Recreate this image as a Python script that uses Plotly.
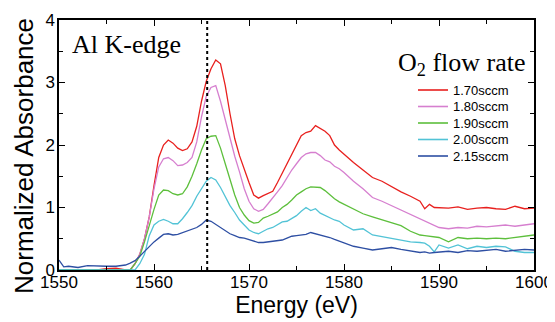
import plotly.graph_objects as go

energy = [1550, 1550.5, 1551, 1552, 1553, 1554, 1555, 1556, 1557, 1557.5,
          1558, 1558.5, 1559, 1559.5, 1560, 1560.5, 1561, 1561.5, 1562, 1562.5,
          1563, 1563.5, 1564, 1564.5, 1565, 1565.5, 1566, 1566.5, 1567, 1567.5,
          1568, 1568.5, 1569, 1569.5, 1570, 1570.5, 1571, 1571.5, 1572, 1572.5,
          1573, 1573.5, 1574, 1574.5, 1575, 1575.5, 1576, 1576.5, 1577, 1577.5,
          1578, 1578.5, 1579, 1579.5, 1580, 1581, 1582, 1583, 1584, 1585,
          1586, 1587, 1588, 1588.5, 1589, 1589.5, 1590, 1591, 1592, 1593,
          1594, 1595, 1596, 1597, 1598, 1599, 1600]

abs_170 = [0.0, 0.0, 0.01, 0.0, 0.01, 0.0, 0.02, 0.03, 0.0, 0.0,
           0.1, 0.25, 0.5, 0.85, 1.35, 1.8, 2.0, 2.08, 2.03, 1.95,
           1.91, 1.94, 2.05, 2.3, 2.7, 3.02, 3.22, 3.36, 3.3, 2.95,
           2.5, 2.1, 1.83, 1.6, 1.4, 1.2, 1.15, 1.19, 1.23, 1.26,
           1.4, 1.55, 1.7, 1.85, 2.0, 2.15, 2.2, 2.22, 2.31, 2.27,
           2.22, 2.15, 2.0, 1.92, 1.85, 1.72, 1.6, 1.48, 1.42, 1.33,
           1.25, 1.18, 1.1, 0.98, 1.05, 1.0, 1.0, 0.99, 1.01, 0.97,
           0.99, 1.0, 0.98, 0.97, 1.02, 0.98, 0.99]

abs_180 = [0.0, 0.0, 0.0, 0.0, 0.0, 0.0, 0.0, 0.0, 0.0, 0.0,
           0.1, 0.25, 0.5, 0.85, 1.3, 1.65, 1.78, 1.8, 1.75, 1.67,
           1.68, 1.72, 1.8, 2.05, 2.45, 2.78, 2.92, 2.95, 2.7, 2.4,
           2.1, 1.82, 1.57, 1.3, 1.1, 0.98, 0.94, 0.97, 1.06, 1.15,
           1.25, 1.35, 1.48, 1.6, 1.7, 1.8, 1.86, 1.88, 1.88, 1.83,
           1.76, 1.73, 1.66, 1.62, 1.56, 1.42, 1.3, 1.16, 1.1, 1.03,
           0.97, 0.9, 0.82, 0.79, 0.76, 0.72, 0.68, 0.66, 0.68, 0.67,
           0.7, 0.69, 0.71, 0.72, 0.7, 0.72, 0.74]

abs_190 = [0.0, 0.0, 0.0, 0.0, 0.0, 0.0, 0.0, 0.0, 0.0, 0.0,
           0.1, 0.22, 0.45, 0.72, 0.97, 1.2, 1.28, 1.27, 1.22, 1.2,
           1.22, 1.33, 1.5, 1.7, 1.92, 2.1, 2.14, 2.15, 1.95, 1.7,
           1.45, 1.2, 1.0, 0.88, 0.79, 0.75, 0.76, 0.83, 0.86, 0.9,
           0.93, 1.0, 1.05, 1.12, 1.2, 1.25, 1.3, 1.33, 1.33, 1.32,
           1.27, 1.2, 1.14, 1.09, 1.05, 0.97, 0.9, 0.85, 0.8, 0.76,
           0.71, 0.62, 0.56, 0.55, 0.54, 0.53, 0.52, 0.45, 0.52, 0.5,
           0.51, 0.5, 0.51, 0.5, 0.52, 0.54, 0.56]

abs_200 = [0.0, 0.0, 0.0, 0.0, 0.0, 0.0, 0.0, 0.0, 0.0, 0.0,
           0.0, 0.1, 0.25, 0.55, 0.72, 0.78, 0.81, 0.78, 0.74, 0.74,
           0.82, 0.92, 1.03, 1.18, 1.3, 1.42, 1.48, 1.44, 1.32, 1.18,
           1.03, 0.92, 0.8, 0.72, 0.64, 0.6, 0.58, 0.62, 0.66, 0.68,
           0.72, 0.77, 0.78, 0.82, 0.87, 0.94, 1.0, 0.95, 0.98, 0.91,
           0.87, 0.84, 0.8, 0.78, 0.72, 0.64, 0.66, 0.56, 0.53, 0.5,
           0.47, 0.45, 0.44, 0.43, 0.38, 0.29, 0.4, 0.35, 0.4, 0.34,
           0.38, 0.36, 0.38, 0.37, 0.3, 0.28, 0.28]

abs_215 = [0.16, 0.05, 0.06, 0.04, 0.07, 0.06, 0.06, 0.06, 0.08, 0.11,
           0.15, 0.22, 0.3, 0.38, 0.45, 0.51, 0.57, 0.58, 0.56, 0.57,
           0.6, 0.62, 0.65, 0.68, 0.73, 0.8, 0.78, 0.73, 0.67, 0.62,
           0.58, 0.55, 0.52, 0.51, 0.49, 0.46, 0.44, 0.44, 0.45, 0.46,
           0.47, 0.48, 0.51, 0.54, 0.55, 0.56, 0.57, 0.6, 0.58, 0.57,
           0.55, 0.52, 0.49, 0.46, 0.44, 0.38, 0.35, 0.32, 0.34, 0.36,
           0.33, 0.3, 0.28, 0.29, 0.27, 0.28, 0.29, 0.3, 0.28, 0.31,
           0.3, 0.32, 0.33, 0.3, 0.32, 0.33, 0.32]

series_names = ["1.70sccm", "1.80sccm", "1.90sccm", "2.00sccm", "2.15sccm"]
series_values = [abs_170, abs_180, abs_190, abs_200, abs_215]
series_colors = ["#e8201e", "#d67fcf", "#5dbf3c", "#52c3d6", "#2e4fa3"]

edge_energy = 1565.6

# The page body has an 8px margin, so the figure is drawn 8px in from the
# window's top-left corner; sizes below are chosen in window pixels.
OFF = 8
WIN_W, WIN_H = 555, 322
PL, PR, PT, PB = 59, 534, 20, 270          # plot frame in window pixels
W, H = WIN_W - OFF, WIN_H - OFF
ML, MT = PL - OFF, PT - OFF
MR, MB = W - (PR - OFF), H - (PB - OFF)
PW, PH = PR - PL, PB - PT


def px_x(p):
    return (p - PL) / PW


def px_y(p):
    return (PB - p) / PH


fig = go.Figure()
for name, vals, col in zip(series_names, series_values, series_colors):
    fig.add_trace(go.Scatter(x=energy, y=vals, mode="lines", name=name,
                             line=dict(color=col, width=1.3), showlegend=False))

fig.add_shape(type="line", x0=edge_energy, x1=edge_energy, y0=0, y1=4,
              xref="x", yref="y", line=dict(color="black", width=2, dash="dot"))

# legend (line sample + label)
leg_y0, leg_dy = 90, 16.5
for i, (name, col) in enumerate(zip(series_names, series_colors)):
    yy = px_y(leg_y0 + i * leg_dy)
    fig.add_shape(type="line", xref="paper", yref="paper",
                  x0=px_x(418), x1=px_x(448), y0=yy, y1=yy,
                  line=dict(color=col, width=1.6))
    fig.add_annotation(text=name, xref="paper", yref="paper", x=px_x(451), y=yy,
                       xanchor="left", yanchor="middle", showarrow=False,
                       font=dict(family="Liberation Sans", size=13, color="black"))

fig.add_annotation(text="Al K-edge", xref="paper", yref="paper", x=px_x(70), y=px_y(28),
                   xanchor="left", yanchor="top", showarrow=False,
                   font=dict(family="Liberation Serif", size=26, color="black"))
fig.add_annotation(text="O<sub>2</sub> flow rate", xref="paper", yref="paper",
                   x=px_x(528), y=px_y(46), xanchor="right", yanchor="top", showarrow=False,
                   font=dict(family="Liberation Serif", size=26, color="black"))

# y-axis title (as rotated annotation, slightly below the frame centre like the reference)
fig.add_annotation(text="Normalized Absorbance", xref="paper", yref="paper",
                   x=px_x(24), y=px_y(156), xanchor="center", yanchor="middle",
                   textangle=-90, showarrow=False,
                   font=dict(family="Liberation Sans", size=26, color="black"))

axis_common = dict(showline=True, linecolor="black", linewidth=1.5, mirror="allticks",
                   ticks="inside", ticklen=6, tickwidth=1.2, tickcolor="black",
                   showgrid=False, zeroline=False, automargin=False,
                   tickfont=dict(family="Liberation Sans", size=17, color="black"))

fig.update_xaxes(range=[1550, 1600], dtick=10, tick0=1550, ticklabelstandoff=-4,
                 minor=dict(dtick=5, ticks="inside", ticklen=4, tickcolor="black"),
                 title=dict(text="Energy (eV)", standoff=2,
                            font=dict(family="Liberation Sans", size=23, color="black")),
                 **axis_common)
fig.update_yaxes(range=[0, 4], dtick=1, tick0=0, ticklabelstandoff=-1,
                 minor=dict(dtick=0.5, ticks="inside", ticklen=4, tickcolor="black"),
                 **axis_common)

fig.update_layout(
    width=W, height=H,
    margin=dict(l=ML, r=MR, t=MT, b=MB),
    paper_bgcolor="white", plot_bgcolor="white",
    showlegend=False,
)

fig.write_html("out.html")
